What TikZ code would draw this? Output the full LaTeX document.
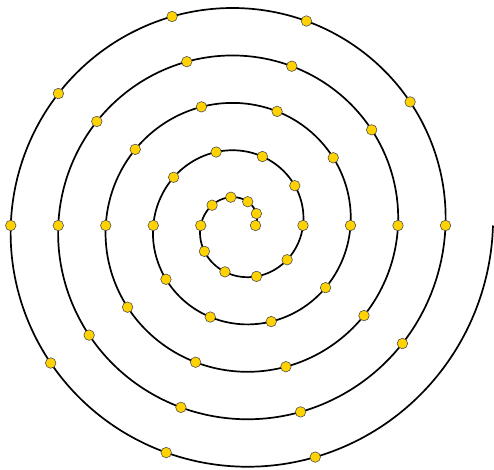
\documentclass[tikz,border=0pt]{standalone}
\begin{document}
\begin{tikzpicture}[x=1pt,y=1pt,
  spiralline/.style={line width=1.7pt,black},
  dotnode/.style={circle,fill={rgb,255:red,255;green,210;blue,0},draw={rgb,255:red,80;green,80;blue,80},line width=0.6pt,minimum size=10.5pt,inner sep=0pt}]
\useasboundingbox (0,0) rectangle (494,469);
\coordinate (c) at (240,243.5);
\draw[spiralline] plot[domain=0:1800,samples=721,smooth,variable=\t]
  ({240+(15.5+0.13195*\t)*cos(\t)},{243.5+(15.5+0.13195*\t)*sin(\t)});
\foreach \k in {0,...,48}{
  \pgfmathsetmacro{\ang}{36*\k}
  \pgfmathsetmacro{\rad}{15.5+0.13195*\ang}
  \node[dotnode] (d\k) at ({240+\rad*cos(\ang)},{243.5+\rad*sin(\ang)}) {};
}
\end{tikzpicture}
\end{document}
